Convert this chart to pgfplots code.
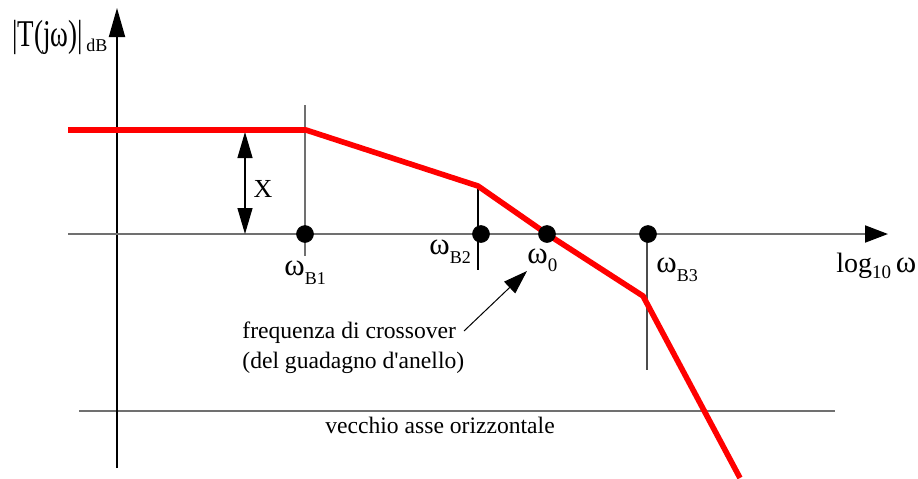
\documentclass[border=0pt]{standalone}
\usepackage{fontspec}
\setmainfont{Liberation Serif}
\usepackage{pgfplots}
\pgfplotsset{compat=1.18}
\usetikzlibrary{arrows.meta}
\newcommand{\fs}[1]{\fontsize{#1}{#1}\selectfont}
\definecolor{axgray}{HTML}{707070}
\definecolor{bode}{HTML}{FF0000}
\begin{document}
\begin{tikzpicture}
\begin{axis}[
  scale only axis, width=459pt, height=239pt,
  xmin=0, xmax=918, ymin=0, ymax=478, y dir=reverse,
  hide axis, clip=false,
]
% old horizontal axis
\addplot[axgray, line width=1pt] coordinates {(79,411) (835,411)};
% vertical axis |T(jw)|
\addplot[black, line width=0.9pt, -{Triangle[length=14.5pt,width=8pt]}] coordinates {(117,468) (117,8)};
% horizontal axis log10 w
\addplot[axgray, line width=1pt, -{Triangle[length=11.5pt,width=8.5pt,color=black]}] coordinates {(68,234) (888,234)};
% break-frequency guides
\addplot[axgray, line width=0.9pt] coordinates {(305,105) (305,256)};
\addplot[black, line width=0.7pt] coordinates {(478,187) (478,270)};
\addplot[black!70, line width=0.8pt] coordinates {(647,234) (647,370)};
% X double arrow
\addplot[black, line width=0.6pt, {Triangle[length=13pt,width=7.5pt]}-{Triangle[length=13pt,width=7.5pt]}] coordinates {(245,132) (245,234)};
% crossover pointer
\addplot[black, line width=0.5pt, -{Triangle[length=12pt,width=8pt]}] coordinates {(464,331) (527,271)};
% asymptotic magnitude
\addplot[bode, line width=2.8pt, line join=round] coordinates {
  (68,130) (306,130) (478,186) (547,234) (643,296) (740,478)};
% break frequencies and crossover
\addplot[only marks, mark=*, mark size=4.2pt, black] coordinates {
  (305,234) (481,234) (547,234) (648,234)};

% labels
\node[anchor=base west, inner sep=0] at (axis cs:12,46) {\scalebox{1}[1.4]{\fs{13.5}|T(jω)|}};
\node[anchor=base west, inner sep=0] at (axis cs:86,51) {\fs{9}dB};
\node[anchor=center, inner sep=0] at (axis cs:263,189) {\fs{13}X};
\node[anchor=base west, inner sep=0] at (axis cs:284,275) {\fs{15.5}ω\raisebox{-4.5pt}{\fs{9}B1}};
\node[anchor=base west, inner sep=0] at (axis cs:429,254) {\fs{15.5}ω\raisebox{-4.5pt}{\fs{9}B2}};
\node[anchor=base west, inner sep=0] at (axis cs:527,263) {\fs{15.5}ω\raisebox{-4pt}{\fs{9.5}0}};
\node[anchor=base west, inner sep=0] at (axis cs:656,272) {\fs{15.5}ω\raisebox{-4.5pt}{\fs{9}B3}};
\node[anchor=base west, inner sep=0] at (axis cs:836,272) {\fs{14}log\raisebox{-3pt}{\fs{9.5}10}\,{\fs{15.5}ω}};
\node[anchor=base west, inner sep=0] at (axis cs:242,338) {\fs{11.8}frequenza di crossover};
\node[anchor=base west, inner sep=0] at (axis cs:242,368) {\fs{11.8}(del guadagno d\textquotesingle anello)};
\node[anchor=base west, inner sep=0] at (axis cs:325,433) {\fs{11.8}vecchio asse orizzontale};
\end{axis}
\pgfresetboundingbox
\useasboundingbox (current axis.south west) rectangle (current axis.north east);
\end{tikzpicture}
\end{document}
